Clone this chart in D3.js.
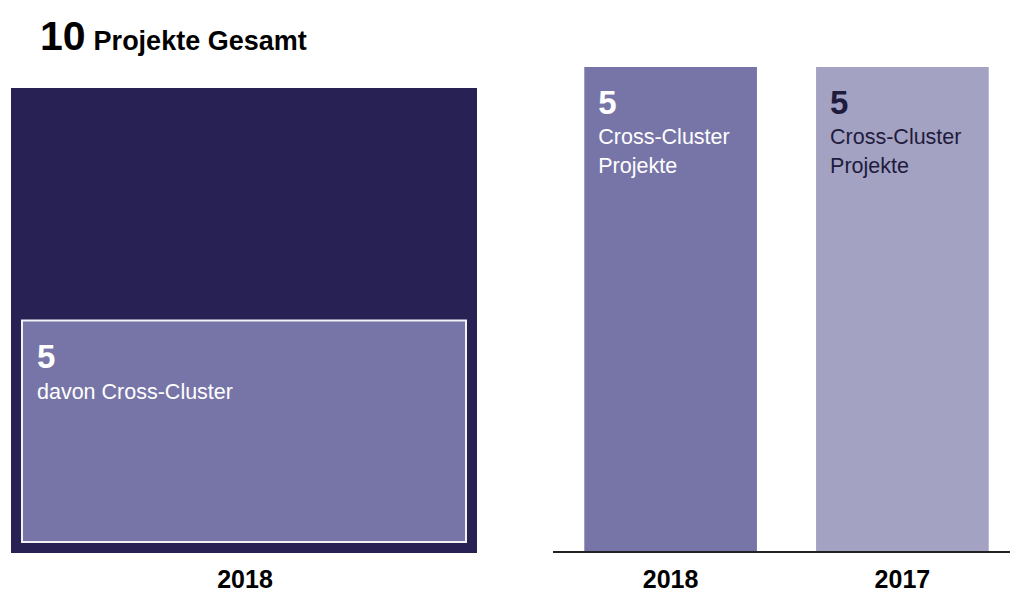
<!DOCTYPE html>
<html>
<head>
<meta charset="utf-8">
<script src="https://cdn.jsdelivr.net/npm/d3@7"></script>
<style>
  body { margin: 0; background: #fff; }
  svg { display: block; font-family: "Liberation Sans", Arial, sans-serif; }
</style>
</head>
<body>
<svg id="chart" width="1010" height="592"></svg>
<script>
// data
const totalYear = "2018";
const totalProjects = 10;
const crossClusterShare = 5;
const barYears = ["2018", "2017"];
const barValues = [5, 5];
const barColors = ["#7775a7", "#a3a2c3"];
const barTextColors = ["#ffffff", "#1f1b3d"];

const svg = d3.select("#chart");

// title
const title = svg.append("text").attr("x", 40).attr("y", 50).attr("fill", "#000");
title.append("tspan").attr("font-size", 41).attr("font-weight", "bold").text(totalProjects);
title.append("tspan").attr("font-size", 27).attr("font-weight", "bold").attr("dx", 8).text("Projekte Gesamt");

// left: total box with nested cross-cluster box
const yLeft = d3.scaleLinear().domain([0, totalProjects]).range([553, 88]);
const xLeft = [11, 477];
const inset = 11;

svg.append("rect")
  .attr("x", xLeft[0]).attr("y", yLeft(totalProjects))
  .attr("width", xLeft[1] - xLeft[0]).attr("height", yLeft(0) - yLeft(totalProjects))
  .attr("fill", "#282153");

svg.append("rect")
  .attr("x", xLeft[0] + inset).attr("y", yLeft(crossClusterShare))
  .attr("width", xLeft[1] - xLeft[0] - 2 * inset)
  .attr("height", yLeft(0) - inset - yLeft(crossClusterShare))
  .attr("fill", "#7775a7")
  .attr("stroke", "#f2f2f7").attr("stroke-width", 2);

svg.append("text")
  .attr("x", 37).attr("y", yLeft(crossClusterShare) + 47)
  .attr("font-size", 33).attr("font-weight", "bold").attr("fill", "#fff")
  .text(crossClusterShare);
svg.append("text")
  .attr("x", 37).attr("y", yLeft(crossClusterShare) + 78)
  .attr("font-size", 21.5).attr("fill", "#fff")
  .text("davon Cross-Cluster");

svg.append("text")
  .attr("x", (xLeft[0] + xLeft[1]) / 2 + 1).attr("y", 588)
  .attr("text-anchor", "middle").attr("font-size", 25).attr("font-weight", "bold")
  .text(totalYear);

// right: bars per year
const x = d3.scaleBand().domain(barYears).range([553, 1020])
  .paddingInner(0.255).paddingOuter(0.135);
const y = d3.scaleLinear().domain([0, 5]).range([552, 67]);

const bars = svg.append("g").selectAll("g")
  .data(barYears.map((yr, i) => ({ year: yr, value: barValues[i], i })))
  .join("g");

bars.append("rect")
  .attr("x", d => x(d.year)).attr("y", d => y(d.value))
  .attr("width", x.bandwidth()).attr("height", d => y(0) - y(d.value))
  .attr("fill", d => barColors[d.i]);

bars.append("text")
  .attr("x", d => x(d.year) + 14).attr("y", d => y(d.value) + 47)
  .attr("font-size", 33).attr("font-weight", "bold")
  .attr("fill", d => barTextColors[d.i])
  .text(d => d.value);

const lbl = bars.append("text")
  .attr("font-size", 21.5)
  .attr("fill", d => barTextColors[d.i]);
lbl.append("tspan").attr("x", d => x(d.year) + 14).attr("y", d => y(d.value) + 77).text("Cross-Cluster");
lbl.append("tspan").attr("x", d => x(d.year) + 14).attr("y", d => y(d.value) + 106).text("Projekte");

// axis
const axis = svg.append("g").attr("transform", `translate(0,${y(0)})`)
  .call(d3.axisBottom(x).tickSize(0).tickPadding(18));
axis.select(".domain").attr("stroke", "#222").attr("stroke-width", 2)
  .attr("d", `M553,0H1010`);
axis.selectAll(".tick text")
  .attr("font-size", 25).attr("font-weight", "bold").attr("fill", "#000")
  .attr("font-family", "Liberation Sans, Arial, sans-serif");
</script>
</body>
</html>
